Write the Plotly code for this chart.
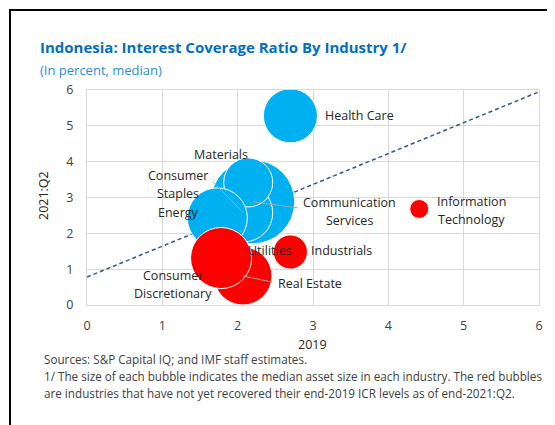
import plotly.graph_objects as go

# ---------------- data ----------------
industries = ["Communication Services", "Consumer Staples", "Materials", "Energy",
              "Health Care", "Real Estate", "Consumer Discretionary", "Utilities",
              "Industrials", "Information Technology"]
icr_2019 = [2.20, 2.08, 2.14, 1.73, 2.70, 2.07, 1.72, 1.78, 2.70, 4.41]
icr_2021q2 = [2.88, 2.57, 3.42, 2.43, 5.28, 0.81, 1.20, 1.31, 1.48, 2.68]
median_assets = [176, 84, 60, 90, 73, 84, 48, 93, 29, 9]

trend_x = [0, 6]
trend_y = [0.78, 5.95]

x_ticks = [0, 1, 2, 3, 4, 5, 6]
y_ticks = [0, 1, 2, 3, 4, 5, 6]

# ---------------- layout helpers ----------------
OFF = 8                    # default page body margin
W, H = 555 - OFF, 425 - OFF
L, R, T, B = 87, 539, 90, 305  # plot area in page pixels


def px(x):
    return (x - L) / (R - L)


def py(y):
    return (B - y) / (B - T)


Y_PER_PX = 6 / (B - T)

BLUE = "#00B0F0"
RED = "#FF0000"
colors = [BLUE if y >= x else RED for x, y in zip(icr_2019, icr_2021q2)]

FONT = "Open Sans"
TXT = "#262626"

fig = go.Figure()

# dashed reference line
fig.add_trace(go.Scatter(x=trend_x, y=trend_y, mode="lines",
                         line=dict(color="#2F5597", width=1.5, dash="4px,3px"),
                         hoverinfo="skip", showlegend=False))

# label positions (data units) and optional leader anchors
label_pos = {
    "Communication Services": (3.49, 2.62, ["Communication", "Services"], "center", (2.80, 2.71)),
    "Consumer Staples": (1.21, 3.37, ["Consumer", "Staples"], "center", (1.67, 3.44)),
    "Materials": (1.78, 4.19, ["Materials"], "center", None),
    "Energy": (1.21, 2.57, ["Energy"], "center", None),
    "Health Care": (3.13, 5.28, ["Health Care"], "left", None),
    "Real Estate": (2.96, 0.61, ["Real Estate"], "center", (2.46, 0.64)),
    "Consumer Discretionary": (1.14, 0.56, ["Consumer", "Discretionary"], "center", None),
    "Utilities": (2.43, 1.51, ["Utilities"], "center", None),
    "Industrials": (2.95, 1.51, ["Industrials"], "left", None),
    "Information Technology": (5.11, 2.63, ["Information", "Technology"], "center", None),
}

# leader lines
lx, ly = [], []
for name, x, y in zip(industries, icr_2019, icr_2021q2):
    anchor = label_pos[name][4]
    if anchor:
        lx += [anchor[0], x, None]
        ly += [anchor[1], y, None]

# bubbles
max_d = 84
fig.add_trace(go.Scatter(
    x=icr_2019, y=icr_2021q2, mode="markers", text=industries,
    marker=dict(size=median_assets, sizemode="area",
                sizeref=2 * max(median_assets) / (max_d ** 2),
                color=colors, opacity=1, line=dict(color="white", width=1)),
    hoverinfo="text", showlegend=False))

# leader lines drawn above bubbles (as in Excel)
fig.add_trace(go.Scatter(x=lx, y=ly, mode="lines",
                         line=dict(color="#A6A6A6", width=1),
                         hoverinfo="skip", showlegend=False))

annotations = []
GAP = 18 * Y_PER_PX
for name in industries:
    x, y, lines, anchor, _ = label_pos[name]
    n = len(lines)
    for i, t in enumerate(lines):
        annotations.append(dict(x=x, y=y + (n - 1) / 2 * GAP - i * GAP, xref="x", yref="y",
                                text=t, showarrow=False,
                                xanchor=anchor, yanchor="middle", align="center",
                                font=dict(family=FONT, size=12.5, color=TXT)))

# titles
annotations += [
    dict(x=px(38), y=py(47), xref="paper", yref="paper", xanchor="left", yanchor="middle",
         text="<b>Indonesia: Interest Coverage Ratio By Industry 1/</b>", showarrow=False,
         font=dict(family=FONT, size=15, color="#0070C0")),
    dict(x=px(38), y=py(70), xref="paper", yref="paper", xanchor="left", yanchor="middle",
         text="(In percent, median)", showarrow=False,
         font=dict(family=FONT, size=13, color="#1F8FDB")),
    dict(x=px(312), y=py(344), xref="paper", yref="paper", xanchor="center", yanchor="middle",
         text="2019", showarrow=False, font=dict(family=FONT, size=12.5, color=TXT)),
    dict(x=px(43), y=py(196), xref="paper", yref="paper", xanchor="center", yanchor="middle",
         text="2021:Q2", textangle=-90, showarrow=False,
         font=dict(family=FONT, size=12.5, color=TXT)),
]

notes = ["Sources: S&P Capital IQ; and IMF staff estimates.",
         "1/ The size of each bubble indicates the median asset size in each industry. The red bubbles",
         "are industries that have not yet recovered their end-2019 ICR levels as of end-2021:Q2."]
for i, n in enumerate(notes):
    annotations.append(dict(x=px(42), y=py(359 + 17 * i), xref="paper", yref="paper",
                            xanchor="left", yanchor="middle", text=n, showarrow=False,
                            font=dict(family=FONT, size=11.7, color="#404040")))

shapes = [dict(type="path", xref="paper", yref="paper",
               path=f"M {px(10)},{py(440)} L {px(10)},{py(10)} L {px(570)},{py(10)}",
               line=dict(color="black", width=2))]

axis_common = dict(range=[0, 6], showgrid=True, gridcolor="#D9D9D9", gridwidth=1,
                   zeroline=False, showline=True, linecolor="#D9D9D9", linewidth=1,
                   mirror=True, ticks="", fixedrange=True,
                   tickfont=dict(family=FONT, size=12.5, color="#404040"))

fig.update_layout(
    width=W, height=H,
    margin=dict(l=L - OFF, r=W - (R - OFF), t=T - OFF, b=H - (B - OFF)),
    paper_bgcolor="white", plot_bgcolor="white",
    xaxis=dict(tickvals=x_ticks, ticklabelstandoff=9, **axis_common),
    yaxis=dict(tickvals=y_ticks, ticklabelstandoff=10, **axis_common),
    annotations=annotations, shapes=shapes, showlegend=False,
)

fig.write_html("out.html")
